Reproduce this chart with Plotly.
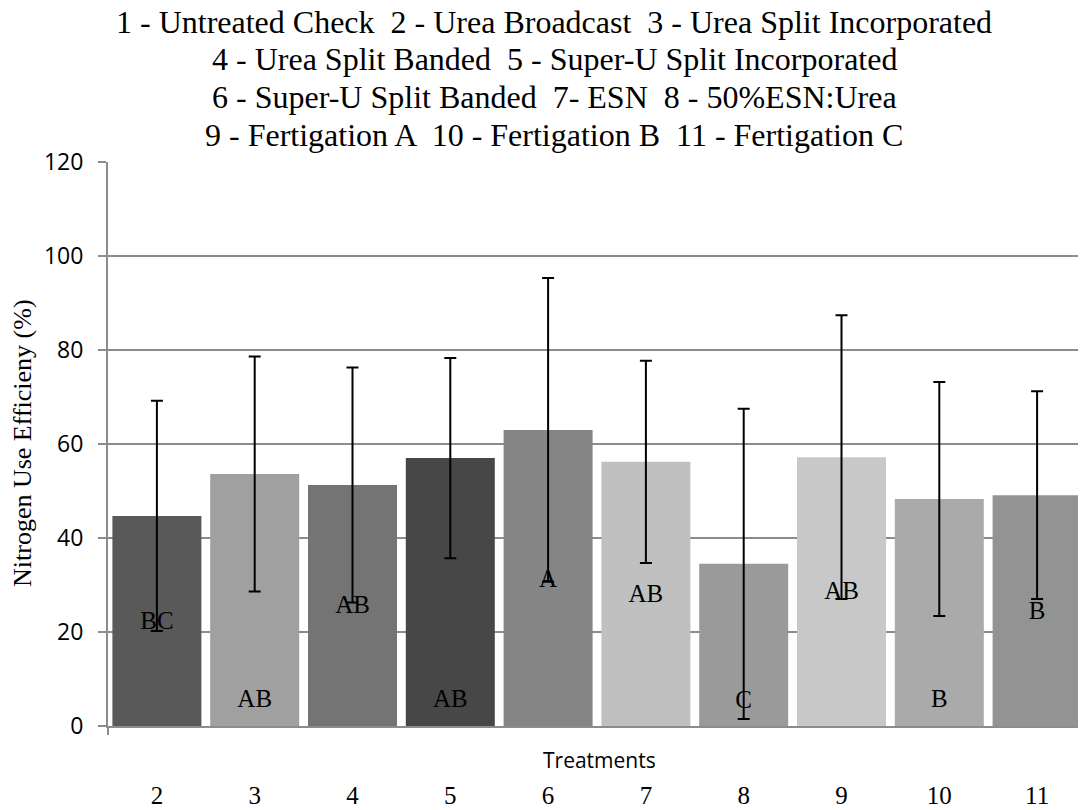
import plotly.graph_objects as go

treatments = ["2", "3", "4", "5", "6", "7", "8", "9", "10", "11"]
nue = [44.7, 53.6, 51.3, 57.0, 63.0, 56.2, 34.5, 57.2, 48.3, 49.1]
err = [24.5, 25.0, 25.0, 21.3, 32.3, 21.5, 33.0, 30.2, 24.9, 22.1]
bar_colors = ["#595959", "#a0a0a0", "#747474", "#474747", "#858585",
              "#c0c0c0", "#9a9a9a", "#c8c8c8", "#aaaaaa", "#939393"]
letters = ["BC", "AB", "AB", "AB", "A", "AB", "C", "AB", "B", "B"]
letter_y = [22.0, 5.4, 25.3, 5.4, 30.9, 27.7, 5.2, 28.4, 5.4, 24.1]
title_lines = [
    "1 - Untreated Check  2 - Urea Broadcast  3 - Urea Split Incorporated",
    "4 - Urea Split Banded  5 - Super-U Split Incorporated",
    "6 - Super-U Split Banded  7- ESN  8 - 50%ESN:Urea",
    "9 - Fertigation A  10 - Fertigation B  11 - Fertigation C",
]

serif = "Liberation Serif"
sans = "Open Sans"

# page body has an 8px margin; plot area in window pixels: x 108..1086, y 162..726
W, H = 1086, 810
L, R, T, B = 100, 8, 154, 92
PW, PH = W - L - R, H - T - B
PLOT_LEFT, PLOT_BOTTOM = 108, 726


def px_x(wx):
    return (wx - PLOT_LEFT) / PW


def px_y(wy):
    return (PLOT_BOTTOM - wy) / PH


fig = go.Figure()
fig.add_trace(go.Bar(
    x=treatments, y=nue,
    marker=dict(color=bar_colors, line=dict(width=0)),
    error_y=dict(type="data", array=err, visible=True, color="black",
                 thickness=2, width=6),
    showlegend=False,
))
fig.add_trace(go.Scatter(
    x=treatments, y=letter_y, mode="text", text=letters,
    textposition="middle center",
    textfont=dict(family=serif, size=25, color="black"),
    showlegend=False, hoverinfo="skip",
))

annotations = []
for i, line in enumerate(title_lines):
    annotations.append(dict(
        text=line, xref="paper", yref="paper",
        x=px_x(554), y=px_y(22 + 37.5 * i),
        xanchor="center", yanchor="middle", showarrow=False,
        font=dict(family=serif, size=32, color="black")))
annotations.append(dict(
    text="Nitrogen Use Efficieny (%)", xref="paper", yref="paper",
    x=px_x(22), y=px_y(443), textangle=-90,
    xanchor="center", yanchor="middle", showarrow=False,
    font=dict(family=serif, size=26, color="black")))
annotations.append(dict(
    text="Treatments", xref="paper", yref="paper",
    x=px_x(599), y=px_y(760), xanchor="center", yanchor="middle",
    showarrow=False, font=dict(family=sans, size=21, color="black")))

fig.update_layout(
    width=W, height=H,
    margin=dict(l=L, r=R, t=T, b=B, autoexpand=False),
    paper_bgcolor="white", plot_bgcolor="white",
    bargap=0.09,
    xaxis=dict(
        type="category", showgrid=False, showline=True, linecolor="#8c8c8c",
        linewidth=2, ticks="outside", ticklen=46, tickcolor="rgba(0,0,0,0)",
        tickfont=dict(family=serif, size=25, color="black"),
        zeroline=False, automargin=False,
    ),
    yaxis=dict(
        range=[0, 120], dtick=20, showgrid=True, gridcolor="#8c8c8c",
        gridwidth=2, showline=True, linecolor="#8c8c8c", linewidth=2,
        ticks="outside", ticklen=8, tickcolor="#8c8c8c", tickwidth=2,
        ticklabelstandoff=10,
        tickfont=dict(family=sans, size=23, color="black"),
        zeroline=False, automargin=False,
    ),
    annotations=annotations,
    shapes=[dict(type="line", xref="paper", yref="paper",
                 x0=0, x1=0, y0=0, y1=-9 / PH,
                 line=dict(color="#8c8c8c", width=2))],
)

fig.write_html("out.html")
